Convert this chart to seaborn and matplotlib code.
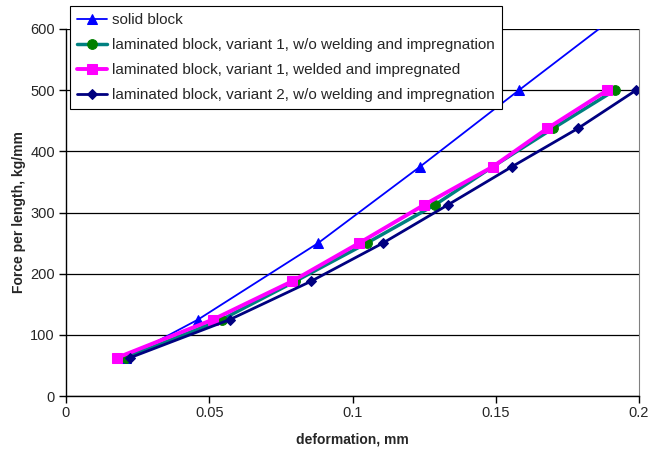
import numpy as np
import pandas as pd
import seaborn as sns
import matplotlib
matplotlib.use("Agg")
import matplotlib.pyplot as plt

force = [62.5, 125, 187.5, 250, 312.5, 375, 437.5, 500]

solid_x = [0.021, 0.0461, 0.088, 0.1236, 0.1581, 0.193]
solid_y = [62.5, 125, 250, 375, 500, 625]

lam1_x = [0.0209, 0.0544, 0.0800, 0.1050, 0.1288, 0.1490, 0.1700, 0.1916]
lam1w_x = [0.0178, 0.0513, 0.0789, 0.1023, 0.1250, 0.1490, 0.1680, 0.1890]
lam2_x = [0.0223, 0.0572, 0.0855, 0.1106, 0.1333, 0.1557, 0.1787, 0.1990]

labels = ["solid block",
          "laminated block, variant 1, w/o welding and impregnation",
          "laminated block, variant 1, welded and impregnated",
          "laminated block, variant 2, w/o welding and impregnation"]

sns.set_style("white")
plt.rcParams['font.family'] = ['Liberation Sans', 'DejaVu Sans']

fig = plt.figure(figsize=(6.5, 4.55), dpi=100)
ax = fig.add_axes([66 / 650, 1 - 396 / 455, 573 / 650, 367 / 455])

# solid block
sns.lineplot(x=solid_x, y=solid_y, sort=False, ax=ax, color="#0000FF", lw=1.3,
             marker="^", markersize=7.5, markeredgecolor="#0000FF", label=labels[0])
# variant 1 without welding
sns.lineplot(x=lam1_x, y=force, sort=False, ax=ax, color="#008080", lw=2.5,
             marker="o", markersize=7, markerfacecolor="#008000",
             markeredgecolor="#008000", label=labels[1])
# variant 1 welded
sns.lineplot(x=lam1w_x, y=force, sort=False, ax=ax, color="#FF00FF", lw=2.8,
             marker="s", markersize=7.5, markeredgecolor="#FF00FF", label=labels[2])
# variant 2
sns.lineplot(x=lam2_x, y=force, sort=False, ax=ax, color="#000080", lw=2,
             marker="D", markersize=5, markeredgecolor="#000080", label=labels[3])

ax.set_xlim(0, 0.2)
ax.set_ylim(0, 600)
ax.set_xticks([0, 0.05, 0.1, 0.15, 0.2])
ax.set_xticklabels(["0", "0.05", "0.1", "0.15", "0.2"])
ax.set_yticks(range(0, 601, 100))
ax.yaxis.grid(True, color="black", lw=0.9)
ax.set_axisbelow(True)
ax.tick_params(axis="both", direction="out", length=5, width=1, color="black",
               labelsize=10.5, bottom=True, left=True, pad=3)
ax.tick_params(axis="x", pad=2)

for s in ["left", "bottom"]:
    ax.spines[s].set_color("black")
    ax.spines[s].set_linewidth(1)
ax.spines["right"].set_color("#808080")
ax.spines["top"].set_visible(False)

ax.set_xlabel("deformation, mm", fontweight="bold", fontsize=10, labelpad=9)
ax.set_ylabel("Force per length, kg/mm", fontweight="bold", fontsize=10, labelpad=3)

leg = ax.legend(loc="upper left", bbox_to_anchor=(70 / 650, 1 - 6 / 455),
                bbox_transform=fig.transFigure, frameon=True, fancybox=False,
                edgecolor="black", framealpha=1, fontsize=11, handlelength=2.0,
                labelspacing=0.72, borderpad=0.45, handletextpad=0.3,
                borderaxespad=0)
leg.get_frame().set_linewidth(0.8)

fig.savefig("out.png", dpi=100)
